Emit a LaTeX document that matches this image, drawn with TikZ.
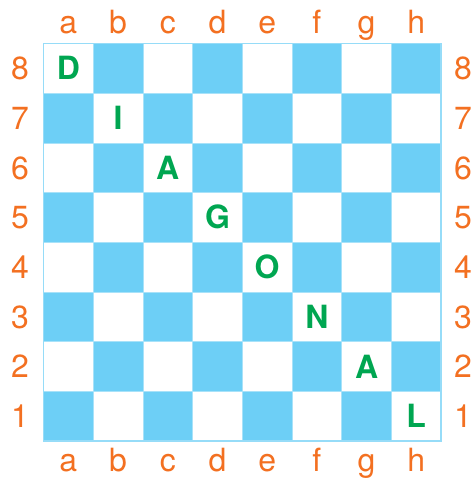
\documentclass[tikz,border=0pt]{standalone}
\usepackage{fontspec}
\setmainfont{TeX Gyre Heros}
\definecolor{sqblue}{HTML}{6DCFF6}
\definecolor{gridblue}{HTML}{A8E2F9}
\definecolor{lblorange}{HTML}{F37021}
\definecolor{pcgreen}{HTML}{00A651}
\begin{document}
\begin{tikzpicture}[x=1pt,y=-1pt,
  coordlbl/.style={text=lblorange,font=\fontsize{32}{32}\selectfont,anchor=base,inner sep=0pt},
  piece/.style={text=pcgreen,font=\fontsize{32}{32}\selectfont\bfseries,anchor=base,inner sep=0pt}]
\useasboundingbox (0,0) rectangle (474,479);
\def\bx{43.5}\def\by{43.5}\def\s{49.7}
\foreach \i in {0,...,7}{
  \foreach \j in {0,...,7}{
    \pgfmathtruncatemacro\sqpar{mod(\i+\j,2)}
    \ifnum\sqpar=1
      \fill[sqblue] ({\bx+\i*\s},{\by+\j*\s}) rectangle ++(\s,\s);
    \fi
  }
}
\foreach \k in {1,...,7}{
  \draw[gridblue,line width=0.6pt] ({\bx+\k*\s},\by) -- ({\bx+\k*\s},{\by+8*\s});
  \draw[gridblue,line width=0.6pt] (\bx,{\by+\k*\s}) -- ({\bx+8*\s},{\by+\k*\s});
}
\draw[gridblue!70!sqblue,line width=1.4pt] (\bx,\by) rectangle ({\bx+8*\s},{\by+8*\s});
\foreach \f [count=\i from 0] in {a,b,c,d,e,f,g,h}{
  \node[coordlbl] (top\f) at ({\bx+(\i+0.5)*\s},33) {\f};
  \node[coordlbl] (bot\f) at ({\bx+(\i+0.5)*\s},471) {\f};
}
\foreach \r [count=\j from 0] in {8,7,6,5,4,3,2,1}{
  \node[coordlbl] (left\r) at (20,{\by+(\j+0.5)*\s+11.3}) {\r};
  \node[coordlbl] (right\r) at (463,{\by+(\j+0.5)*\s+11.3}) {\r};
}
\foreach \L [count=\k from 0] in {D,I,A,G,O,N,A,L}{
  \node[piece] (p\k) at ({\bx+(\k+0.5)*\s},{\by+(\k+0.5)*\s+11.5}) {\L};
}
\end{tikzpicture}
\end{document}
